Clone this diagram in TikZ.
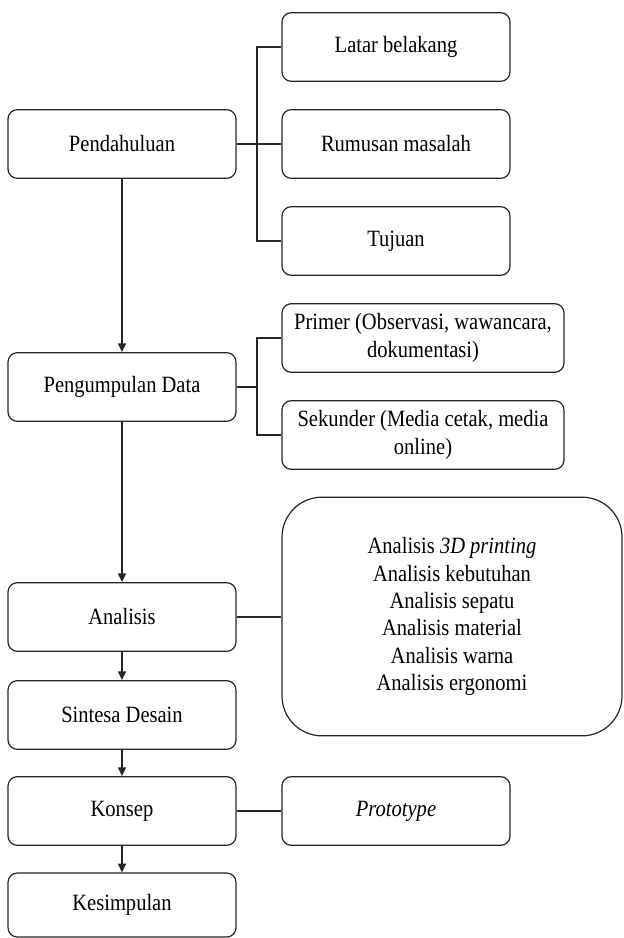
\documentclass[tikz,border=0pt]{standalone}
\usepackage{fontspec}
\setmainfont[FakeStretch=0.88]{Liberation Serif}
\usetikzlibrary{arrows.meta}
\begin{document}
\begin{tikzpicture}[x=0.75pt,y=-0.75pt,
  box/.style={draw=black!85, line width=0.9pt, rounded corners=7pt, align=center,
    inner sep=0pt, font=\fontsize{17.5}{20.5}\selectfont},
  lbox/.style={box, minimum width=171pt, minimum height=51.5pt},
  wbox/.style={box, minimum width=211.5pt, minimum height=51.5pt},
  conn/.style={draw=black!85, line width=0.9pt},
  arr/.style={conn, -{Triangle[width=6pt,length=6.5pt]}}]
\useasboundingbox (0,0) rectangle (624,938);

\node[lbox] (pend) at (122,144) {Pendahuluan};
\node[lbox] (latar) at (396,47) {Latar belakang};
\node[lbox] (rumus) at (396,144) {Rumusan masalah};
\node[lbox] (tujuan) at (396,241) {Tujuan};

\node[lbox] (kump) at (122,387) {Pengumpulan Data};
\node[wbox] (primer) at (423,338) {Primer (Observasi, wawancara,\\dokumentasi)};
\node[wbox] (sekunder) at (423,435) {Sekunder (Media cetak, media\\online)};

\node[lbox] (anal) at (122,617) {Analisis};
\node[box, rounded corners=30pt, minimum width=255pt, minimum height=179pt] (big) at (452,616.5)
  {Analisis \textit{3D printing}\\Analisis kebutuhan\\Analisis sepatu\\Analisis material\\Analisis warna\\Analisis ergonomi};

\node[lbox] (sint) at (122,715) {Sintesa Desain};
\node[lbox] (kons) at (122,811) {Konsep};
\node[lbox] (proto) at (396,811) {\textit{Prototype}};
\node[box, minimum width=171pt, minimum height=48pt] (kesi) at (122,905) {Kesimpulan};

\coordinate (b1) at (257,144);
\coordinate (b2) at (257,387);

\draw[conn] (pend.east) -- (rumus.west);
\draw[conn] (latar.west) -| (b1) |- (tujuan.west);
\draw[conn] (kump.east) -- (b2);
\draw[conn] (primer.west) -| (b2) |- (sekunder.west);
\draw[conn] (anal.east) -- (anal.east -| big.west);
\draw[conn] (kons.east) -- (proto.west);

\draw[arr] (pend.south) -- (kump.north);
\draw[arr] (kump.south) -- (anal.north);
\draw[arr] (anal.south) -- (sint.north);
\draw[arr] (sint.south) -- (kons.north);
\draw[arr] (kons.south) -- (kesi.north);
\end{tikzpicture}
\end{document}
